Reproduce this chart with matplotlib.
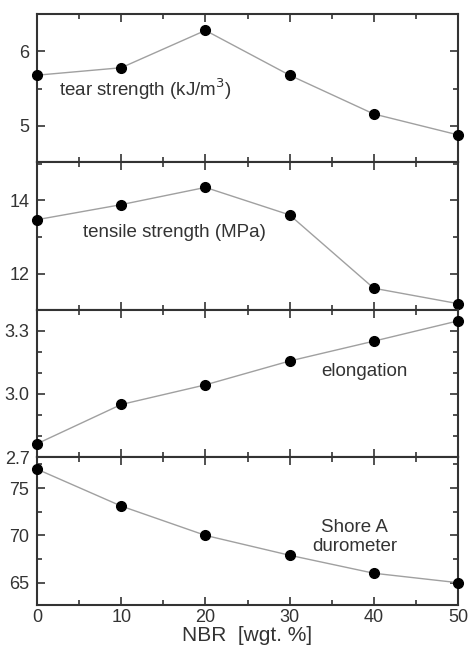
import matplotlib.pyplot as plt
from matplotlib.ticker import MultipleLocator

plt.rcParams["font.family"] = ["Liberation Sans", "DejaVu Sans"]

nbr = [0, 10, 20, 30, 40, 50]
tear_strength = [5.68, 5.78, 6.28, 5.68, 5.16, 4.88]
tensile_strength = [13.47, 13.88, 14.35, 13.60, 11.60, 11.18]
elongation = [2.764, 2.95, 3.043, 3.156, 3.25, 3.346]
shore_a = [77.0, 73.1, 70.0, 67.9, 66.0, 65.0]

INK = "#333333"

panels = [
    (tear_strength, (4.52, 6.5), 1, 0.5, "tear strength (kJ/m$^3$)", (0.052, 0.49), "left"),
    (tensile_strength, (11.02, 15.05), 2, 1, "tensile strength (MPa)", (0.11, 0.52), "left"),
    (elongation, (2.70, 3.40), 0.3, 0.1, "elongation", (0.777, 0.578), "center"),
    (shore_a, (62.64, 78.26), 5, 2.5, "Shore A\ndurometer", (0.755, 0.46), "center"),
]

fig, axes = plt.subplots(4, 1, figsize=(4.69, 6.54), dpi=100, sharex=True)
fig.subplots_adjust(left=0.079, right=0.9765, top=0.9786, bottom=0.0749, hspace=0)

for ax, (values, ylim, major, minor, label, pos, ha) in zip(axes, panels):
    ax.plot(nbr, values, color="#a0a0a0", lw=1.0, zorder=2)
    ax.plot(nbr, values, "o", color="black", ms=7, zorder=3, clip_on=False)
    ax.set_ylim(*ylim)
    ax.set_xlim(0, 50)
    ax.yaxis.set_major_locator(MultipleLocator(major))
    ax.yaxis.set_minor_locator(MultipleLocator(minor))
    ax.xaxis.set_major_locator(MultipleLocator(10))
    ax.xaxis.set_minor_locator(MultipleLocator(5))
    ax.tick_params(which="both", direction="in", top=True, right=True,
                   color=INK, labelcolor=INK, labelsize=13, width=1.2)
    ax.tick_params(axis="x", pad=3)
    ax.tick_params(axis="y", pad=5.5)
    ax.tick_params(which="major", length=6)
    ax.tick_params(which="minor", length=3.5)
    for spine in ax.spines.values():
        spine.set_color(INK)
        spine.set_linewidth(1.5)
    ax.text(pos[0], pos[1], label, transform=ax.transAxes, ha=ha, va="center",
            fontsize=13.5, color=INK, linespacing=1.15)

axes[2].yaxis.set_major_formatter(lambda v, p: f"{v:.1f}")
axes[-1].set_xlabel("NBR  [wgt. %]", fontsize=15, color=INK, labelpad=0)

fig.savefig("out.png", dpi=100)
